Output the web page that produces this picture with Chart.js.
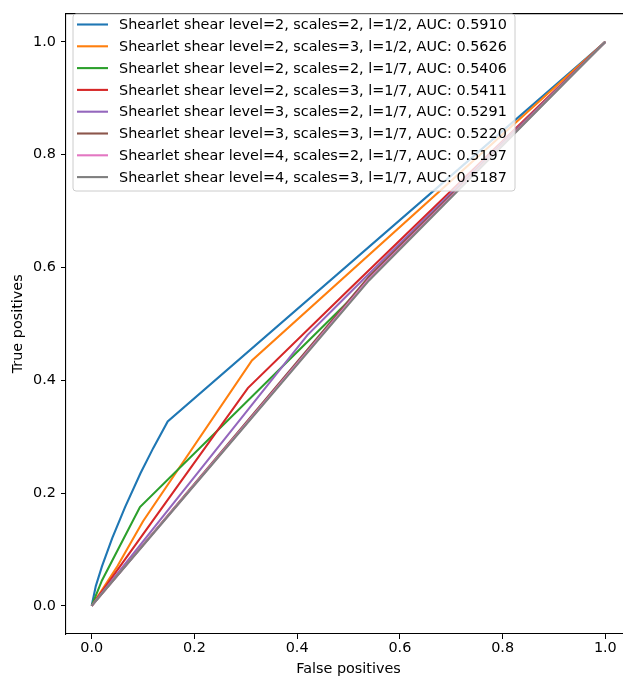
<!DOCTYPE html>
<html><head><meta charset="utf-8">
<script src="https://cdn.jsdelivr.net/npm/chart.js@4.4.1/dist/chart.umd.min.js"></script>
<style>
html,body{margin:0;padding:0;background:#fff;overflow:hidden;width:623px;height:680px}
#wrap{position:relative;width:640px;height:680px}
canvas{display:block}
</style>
</head><body>
<div id="wrap"><canvas id="c" width="640" height="680" style="width:640px;height:680px"></canvas></div>
<script>
// ---- data ----
const seriesLabels = [
  'Shearlet shear level=2, scales=2, l=1/2, AUC: 0.5910',
  'Shearlet shear level=2, scales=3, l=1/2, AUC: 0.5626',
  'Shearlet shear level=2, scales=2, l=1/7, AUC: 0.5406',
  'Shearlet shear level=2, scales=3, l=1/7, AUC: 0.5411',
  'Shearlet shear level=3, scales=2, l=1/7, AUC: 0.5291',
  'Shearlet shear level=3, scales=3, l=1/7, AUC: 0.5220',
  'Shearlet shear level=4, scales=2, l=1/7, AUC: 0.5197',
  'Shearlet shear level=4, scales=3, l=1/7, AUC: 0.5187'
];
const fprL2S2Half = [0, 0.008, 0.02, 0.04, 0.065, 0.095, 0.12, 0.148, 1];
const tprL2S2Half = [0, 0.035, 0.07, 0.12, 0.175, 0.235, 0.28, 0.327, 1];
const fprL2S3Half = [0, 0.05, 0.1, 0.312, 1];
const tprL2S3Half = [0, 0.07, 0.15, 0.435, 1];
const fprL2S2Sev = [0, 0.02, 0.094, 0.5, 0.56, 1];
const tprL2S2Sev = [0, 0.045, 0.175, 0.54, 0.6, 1];
const fprL2S3Sev = [0, 0.304, 0.5, 1];
const tprL2S3Sev = [0, 0.386, 0.56, 1];
const fprL3S2Sev = [0, 0.42, 0.53, 1];
const tprL3S2Sev = [0, 0.48, 0.58, 1];
const fprL3S3Sev = [0, 0.54, 1];
const tprL3S3Sev = [0, 0.584, 1];
const fprL4S2Sev = [0, 0.54, 1];
const tprL4S2Sev = [0, 0.5795, 1];
const fprL4S3Sev = [0, 0.54, 1];
const tprL4S3Sev = [0, 0.577, 1];
const xTickValues = [0, 0.2, 0.4, 0.6, 0.8, 1.0];
const yTickValues = [0, 0.2, 0.4, 0.6, 0.8, 1.0];
const xTitle = 'False positives';
const yTitle = 'True positives';

// ---- styling ----
const colors = ['#1f77b4','#ff7f0e','#2ca02c','#d62728','#9467bd','#8c564b','#e377c2','#7f7f7f'];
const FONT = 'DejaVu Sans';
const FS = 14.4;

const xs = [fprL2S2Half, fprL2S3Half, fprL2S2Sev, fprL2S3Sev, fprL3S2Sev, fprL3S3Sev, fprL4S2Sev, fprL4S3Sev];
const ys = [tprL2S2Half, tprL2S3Half, tprL2S2Sev, tprL2S3Sev, tprL3S2Sev, tprL3S3Sev, tprL4S2Sev, tprL4S3Sev];

const datasets = seriesLabels.map((lab, i) => ({
  label: lab,
  data: xs[i].map((x, k) => ({x: x, y: ys[i][k]})),
  borderColor: colors[i],
  backgroundColor: colors[i],
  borderWidth: 2.1,
  pointRadius: 0,
  pointHoverRadius: 0,
  showLine: true,
  tension: 0,
  fill: false,
  order: -i
}));

const framePlugin = {
  id: 'frame',
  afterDatasetsDraw(chart) {
    const {ctx, chartArea: a} = chart;
    ctx.save();
    ctx.strokeStyle = '#000';
    ctx.lineWidth = 1.1;
    ctx.beginPath();
    ctx.moveTo(a.left, a.top);
    ctx.lineTo(a.right, a.top);
    ctx.stroke();
    ctx.restore();
  }
};

const legendPlugin = {
  id: 'innerLegend',
  afterDatasetsDraw(chart) {
    const ctx = chart.ctx;
    const ds = chart.data.datasets;
    const bx = 73, by = 14, bw = 442, bh = 177, r = 3;
    ctx.save();
    ctx.beginPath();
    ctx.moveTo(bx + r, by);
    ctx.lineTo(bx + bw - r, by);
    ctx.arcTo(bx + bw, by, bx + bw, by + r, r);
    ctx.lineTo(bx + bw, by + bh - r);
    ctx.arcTo(bx + bw, by + bh, bx + bw - r, by + bh, r);
    ctx.lineTo(bx + r, by + bh);
    ctx.arcTo(bx, by + bh, bx, by + bh - r, r);
    ctx.lineTo(bx, by + r);
    ctx.arcTo(bx, by, bx + r, by, r);
    ctx.closePath();
    ctx.fillStyle = 'rgba(255,255,255,0.8)';
    ctx.fill();
    ctx.strokeStyle = '#cccccc';
    ctx.lineWidth = 1;
    ctx.stroke();
    ctx.font = FS + 'px "' + FONT + '"';
    ctx.textBaseline = 'middle';
    ctx.textAlign = 'left';
    ds.forEach((d, i) => {
      const cy = 24.5 + i * 21.8;
      ctx.strokeStyle = d.borderColor;
      ctx.lineWidth = 2.1;
      ctx.beginPath();
      ctx.moveTo(77, cy);
      ctx.lineTo(108, cy);
      ctx.stroke();
      ctx.fillStyle = '#000';
      ctx.fillText(d.label, 119, cy + 1);
    });
    ctx.restore();
  }
};

new Chart(document.getElementById('c'), {
  type: 'scatter',
  data: { datasets: datasets },
  options: {
    responsive: false,
    animation: false,
    events: [],
    layout: { padding: { top: 6, right: 9, left: 0, bottom: 0 } },
    plugins: { legend: { display: false }, tooltip: { enabled: false } },
    scales: {
      x: {
        type: 'linear', min: -0.05, max: 1.05,
        afterBuildTicks: s => { s.ticks = xTickValues.map(v => ({value: v})); },
        afterFit: s => { s.height = 46; },
        ticks: { color: '#000', padding: 1, font: {family: FONT, size: FS}, callback: v => Number(v).toFixed(1), maxRotation: 0, autoSkip: false },
        grid: { display: true, drawOnChartArea: false, drawTicks: true, tickLength: 5, color: '#000', lineWidth: 1 },
        border: { display: true, color: '#000', width: 1.1 },
        title: { display: true, text: xTitle, color: '#000', font: {family: FONT, size: FS}, padding: {top: 0, bottom: 2} }
      },
      y: {
        type: 'linear', min: -0.05, max: 1.05,
        afterBuildTicks: s => { s.ticks = yTickValues.map(v => ({value: v})); },
        afterFit: s => { s.width = 66; },
        ticks: { color: '#000', padding: 5, font: {family: FONT, size: FS}, callback: v => Number(v).toFixed(1), autoSkip: false },
        grid: { display: true, drawOnChartArea: false, drawTicks: true, tickLength: 5, color: '#000', lineWidth: 1 },
        border: { display: true, color: '#000', width: 1.1 },
        title: { display: true, text: yTitle, color: '#000', font: {family: FONT, size: FS}, padding: {top: 10, bottom: 0} }
      }
    }
  },
  plugins: [framePlugin, legendPlugin]
});
</script>
</body></html>
